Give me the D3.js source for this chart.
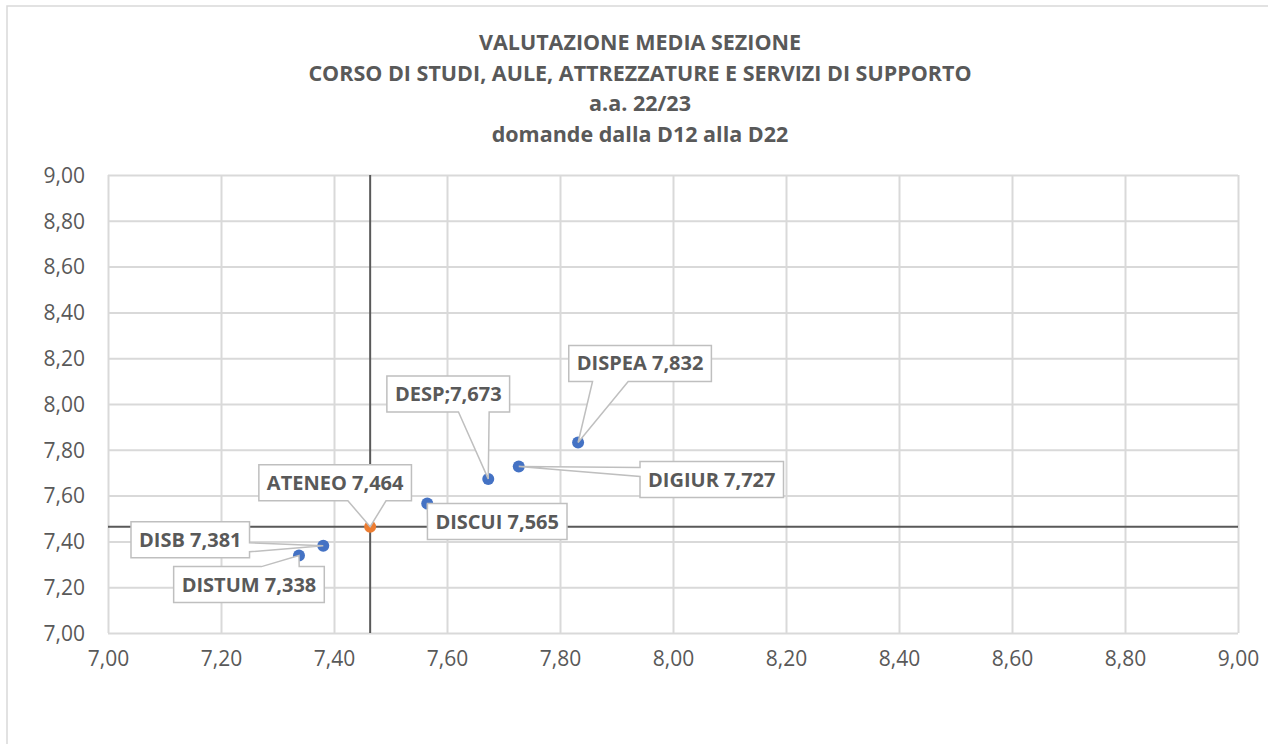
<!DOCTYPE html>
<html>
<head>
<meta charset="utf-8">
<script src="https://cdn.jsdelivr.net/npm/d3@7"></script>
<style>
  body { margin: 0; background: #fff; }
  svg { display: block; font-family: "Open Sans", sans-serif; }
</style>
</head>
<body>
<svg id="chart" width="1268" height="744"></svg>
<script>
// data
const titleLines = ["VALUTAZIONE MEDIA SEZIONE",
    "CORSO DI STUDI, AULE, ATTREZZATURE E SERVIZI DI SUPPORTO",
    "a.a. 22/23",
    "domande dalla D12 alla D22"];
const names = ["DISPEA", "DESP", "DIGIUR", "DISCUI", "ATENEO", "DISB", "DISTUM"];
const labelSep = [" ", ";", " ", " ", " ", " ", " "];
const xValues = [7.832, 7.673, 7.727, 7.565, 7.464, 7.381, 7.338];
const yValues = [7.832, 7.673, 7.727, 7.565, 7.464, 7.381, 7.338];
const refName = "ATENEO";
const axisMin = 7, axisMax = 9;

// label box centre, offset from the point (px)
const labelOffsets = [[62, -79], [-40, -85], [193, 13], [70, 18], [-35, -44], [-133, -6], [-50, 29]];

const margin = {left: 108, right: 30, top: 175, bottom: 111};
const W = 1268, H = 744;
const pw = W - margin.left - margin.right, ph = H - margin.top - margin.bottom;

const it = d3.formatLocale({decimal: ",", thousands: ".", grouping: [3], currency: ["", "€"]});
const fmt2 = it.format(".2f"), fmt3 = it.format(".3f");

const svg = d3.select('#chart');

// outer chart border
svg.append('rect')
    .attr('x', 7).attr('y', 6).attr('width', W).attr('height', H)
    .attr('fill', '#fff').attr('stroke', '#d9d9d9').attr('stroke-width', 1.5);

// title
svg.append('g').selectAll('text')
    .data(titleLines)
    .enter()
  .append('text')
    .attr('x', 640)
    .attr('y', (d, i) => 50 + i * 30.5)
    .attr('text-anchor', 'middle')
    .style('font-size', '21.5px')
    .style('font-weight', 'bold')
    .attr('fill', '#595959')
    .text(d => d);

const g = svg.append('g').attr('transform', `translate(${margin.left},${margin.top})`);

const x = d3.scaleLinear().domain([axisMin, axisMax]).range([0, pw]);
const y = d3.scaleLinear().domain([axisMin, axisMax]).range([ph, 0]);

// gridlines
g.append('g')
    .attr('transform', `translate(0,${ph})`)
    .call(d3.axisBottom(x).ticks(10).tickSize(-ph).tickFormat(''))
    .call(a => a.select('.domain').remove())
    .call(a => a.selectAll('line').attr('stroke', '#d9d9d9').attr('stroke-width', 2));
g.append('g')
    .call(d3.axisLeft(y).ticks(10).tickSize(-pw).tickFormat(''))
    .call(a => a.select('.domain').remove())
    .call(a => a.selectAll('line').attr('stroke', '#d9d9d9').attr('stroke-width', 2));

// tick labels
g.append('g')
    .attr('transform', `translate(0,${ph + 15})`)
    .call(d3.axisBottom(x).ticks(10).tickSize(0).tickFormat(fmt2))
    .call(a => a.select('.domain').remove())
    .call(a => a.selectAll('text').attr('fill', '#595959').style('font-size', '21px').style('font-family', '"Open Sans", sans-serif'));
g.append('g')
    .attr('transform', 'translate(-20,0)')
    .call(d3.axisLeft(y).ticks(10).tickSize(0).tickFormat(fmt2))
    .call(a => a.select('.domain').remove())
    .call(a => a.selectAll('text').attr('fill', '#595959').style('font-size', '21px').style('font-family', '"Open Sans", sans-serif').attr('dy', '0.35em'));

// reference crosshair
const ri = names.indexOf(refName);
g.append('line')
    .attr('x1', x(xValues[ri])).attr('x2', x(xValues[ri]))
    .attr('y1', y(axisMin)).attr('y2', y(axisMax))
    .attr('stroke', '#595959').attr('stroke-width', 2);
g.append('line')
    .attr('x1', x(axisMin)).attr('x2', x(axisMax))
    .attr('y1', y(yValues[ri])).attr('y2', y(yValues[ri]))
    .attr('stroke', '#595959').attr('stroke-width', 2);

// points
g.selectAll('circle.pt')
    .data(names)
    .enter()
  .append('circle')
    .attr('class', 'pt')
    .attr('cx', (d, i) => x(xValues[i]))
    .attr('cy', (d, i) => y(yValues[i]))
    .attr('r', 6)
    .attr('fill', d => d === refName ? '#ed7d31' : '#4472c4');

// callout labels (rect with wedge pointing to the point)
const callout = function(bx, by, w, h, tx, ty){
    const cx = bx + w / 2, cy = by + h / 2;
    const dx = (tx - cx) / w, dy = (ty - cy) / h;
    const r = bx + w, b = by + h;
    if (Math.abs(dx) > Math.abs(dy)) {
        const y1 = by + h * (dy < 0 ? 2 / 12 : 7 / 12), y2 = by + h * (dy < 0 ? 5 / 12 : 10 / 12);
        if (dx < 0) return `M${bx},${by}H${r}V${b}H${bx}V${y2}L${tx},${ty}L${bx},${y1}Z`;
        return `M${bx},${by}H${r}V${y1}L${tx},${ty}L${r},${y2}V${b}H${bx}Z`;
    } else {
        const x1 = bx + w * (dx < 0 ? 2 / 12 : 7 / 12), x2 = bx + w * (dx < 0 ? 5 / 12 : 10 / 12);
        if (dy < 0) return `M${bx},${by}H${x1}L${tx},${ty}L${x2},${by}H${r}V${b}H${bx}Z`;
        return `M${bx},${by}H${r}V${b}H${x2}L${tx},${ty}L${x1},${b}H${bx}Z`;
    }
};

const labels = g.selectAll('g.lbl')
    .data(names)
    .enter()
  .append('g')
    .attr('class', 'lbl');

labels.each(function(d, i){
    const grp = d3.select(this);
    const px = x(xValues[i]), py = y(yValues[i]);
    const lx = px + labelOffsets[i][0], ly = py + labelOffsets[i][1];
    const path = grp.append('path');
    const t = grp.append('text')
        .attr('x', lx).attr('y', ly)
        .attr('dy', '0.35em')
        .attr('text-anchor', 'middle')
        .style('font-size', '20px')
        .style('font-weight', 'bold')
        .attr('fill', '#595959')
        .text(d + labelSep[i] + fmt3(xValues[i]));
    const w = t.node().getComputedTextLength() + 16, h = 36;
    path.attr('d', callout(lx - w / 2, ly - h / 2, w, h, px, py))
        .attr('fill', '#fff')
        .attr('stroke', '#bfbfbf')
        .attr('stroke-width', 1.5);
});
</script>
</body>
</html>
